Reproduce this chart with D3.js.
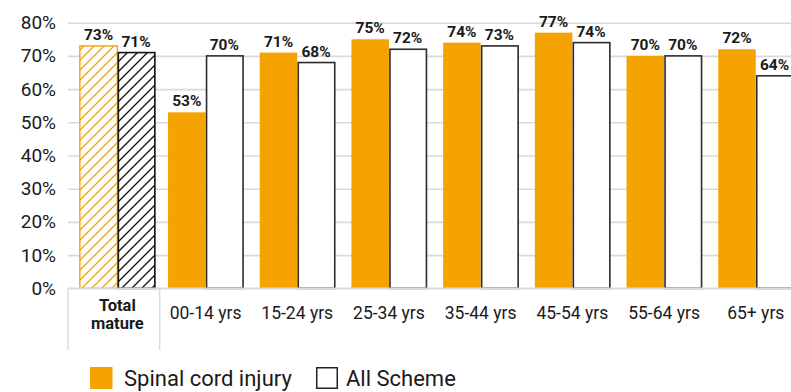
<!DOCTYPE html>
<html>
<head>
<meta charset="utf-8">
<script src="https://cdn.jsdelivr.net/npm/d3@7"></script>
<style>
  html, body { margin: 0; padding: 0; background: #fff; }
  svg { display: block; font-family: Roboto, "Open Sans", sans-serif; }
</style>
</head>
<body>
<svg id="chart" width="791" height="392"></svg>
<script>
// Age groups along the x axis
const categories = ["Total mature", "00-14 yrs", "15-24 yrs", "25-34 yrs", "35-44 yrs", "45-54 yrs", "55-64 yrs", "65+ yrs"];
// Share per age group (percent)
const spinalCord = [73, 53, 71, 75, 74, 77, 70, 72];
const allScheme = [71, 70, 68, 72, 73, 74, 70, 64];
// Y axis ticks (percent)
const yTicks = [0, 10, 20, 30, 40, 50, 60, 70, 80];
const seriesNames = ["Spinal cord injury", "All Scheme"];

const ORANGE = "#f5a300";
const INK = "#1a1a1a";
const GRID = "#d9d9d9";

const svg = d3.select("#chart");
const margin = { left: 68, top: 22.7, bottom: 288.3 };
const step = 91.7;

const x = d3.scaleBand()
  .domain(categories)
  .range([margin.left, margin.left + step * categories.length])
  .paddingInner(0).paddingOuter(0);

const y = d3.scaleLinear().domain([0, 80]).range([margin.bottom, margin.top]);

const barW = 37.5;
// the "Total mature" pair sits a little right of its band centre
const shift = i => (i === 0 ? 3.5 : 0);

// Hatch patterns for the "Total mature" group
const defs = svg.append("defs");
function hatch(id, color) {
  const s = 10;
  const p = defs.append("pattern")
    .attr("id", id)
    .attr("patternUnits", "userSpaceOnUse")
    .attr("width", s).attr("height", s);
  p.append("rect").attr("width", s).attr("height", s).attr("fill", "#fff");
  p.append("path")
    .attr("d", `M-2,2 L2,-2 M0,${s} L${s},0 M${s - 2},${s + 2} L${s + 2},${s - 2}`)
    .attr("stroke", color).attr("stroke-width", 1.3);
}
hatch("hatch-orange", ORANGE);
hatch("hatch-black", "#111");

// Horizontal gridlines and tick labels
const yAxis = d3.axisLeft(y)
  .tickValues(yTicks)
  .tickFormat(d => d + "%")
  .tickSize(-(791 - margin.left))
  .tickPadding(12);

const gy = svg.append("g")
  .attr("transform", `translate(${margin.left},0)`)
  .call(yAxis);
gy.select(".domain").remove();
gy.selectAll(".tick line").attr("stroke", GRID).attr("stroke-width", 1.6);
gy.selectAll(".tick text")
  .attr("fill", INK)
  .attr("font-size", 19)
  .attr("font-family", "Roboto, sans-serif");

// Separators below the baseline around the "Total mature" group
const sepX = [x(categories[0]), x(categories[1])];
svg.append("g").selectAll("line").data(sepX).join("line")
  .attr("x1", d => d).attr("x2", d => d)
  .attr("y1", margin.bottom).attr("y2", 350)
  .attr("stroke", GRID).attr("stroke-width", 1.4);

// Bars
const rows = categories.map((c, i) => ({ cat: c, i, a: spinalCord[i], b: allScheme[i] }));
const groups = svg.append("g").selectAll("g").data(rows).join("g");
const mid = d => x(d.cat) + x.bandwidth() / 2 + shift(d.i);

groups.append("rect")
  .attr("x", d => mid(d) - barW)
  .attr("y", d => y(d.a))
  .attr("width", barW)
  .attr("height", d => y(0) - y(d.a))
  .attr("fill", d => d.i === 0 ? "url(#hatch-orange)" : ORANGE)
  .attr("stroke", d => d.i === 0 ? ORANGE : "none")
  .attr("stroke-width", 1.4);

groups.append("rect")
  .attr("x", d => mid(d) + 1)
  .attr("y", d => y(d.b))
  .attr("width", barW - 1)
  .attr("height", d => y(0) - y(d.b))
  .attr("fill", d => d.i === 0 ? "url(#hatch-black)" : "#fff")
  .attr("stroke", d => d.i === 0 ? "#111" : "#2b2b2b")
  .attr("stroke-width", 1.6);

// Value labels
groups.append("text")
  .attr("x", d => mid(d) - barW / 2)
  .attr("y", d => y(d.a) - 6)
  .attr("text-anchor", "middle")
  .attr("font-weight", 700).attr("font-size", 15.5).attr("fill", INK)
  .text(d => d.a + "%");

groups.append("text")
  .attr("x", d => mid(d) + barW / 2)
  .attr("y", d => y(d.b) - 6)
  .attr("text-anchor", "middle")
  .attr("font-weight", 700).attr("font-size", 15.5).attr("fill", INK)
  .text(d => d.b + "%");

// Baseline
svg.append("line")
  .attr("x1", margin.left).attr("x2", 791)
  .attr("y1", y(0)).attr("y2", y(0))
  .attr("stroke", GRID).attr("stroke-width", 1.6);

// Category labels
const cx = svg.append("g").selectAll("text").data(categories).join("text")
  .attr("x", (d, i) => x(d) + x.bandwidth() / 2 + shift(i))
  .attr("y", 319)
  .attr("text-anchor", "middle")
  .attr("fill", INK)
  .attr("font-size", 17.5);
cx.filter((d, i) => i > 0).text(d => d);
cx.filter((d, i) => i === 0)
  .attr("font-weight", 700).attr("font-size", 16.5)
  .each(function (d) {
    const words = d.split(" ");
    d3.select(this).selectAll("tspan").data(words).join("tspan")
      .attr("x", x(d) + x.bandwidth() / 2 + shift(0))
      .attr("dy", (w, j) => j === 0 ? -8 : 18)
      .text(w => w);
  });

// Legend
const legend = svg.append("g");
const legendItems = [
  { name: seriesNames[0], x: 90, fill: ORANGE, stroke: "none" },
  { name: seriesNames[1], x: 316, fill: "#fff", stroke: "#222" }
];
legend.selectAll("rect").data(legendItems).join("rect")
  .attr("x", d => d.x + (d.stroke === "none" ? 0 : 0.75))
  .attr("y", d => 367 + (d.stroke === "none" ? 0 : 0.75))
  .attr("width", d => d.stroke === "none" ? 22.5 : 20.5)
  .attr("height", d => d.stroke === "none" ? 22 : 20.5)
  .attr("fill", d => d.fill)
  .attr("stroke", d => d.stroke)
  .attr("stroke-width", 1.5);
legend.selectAll("text").data(legendItems).join("text")
  .attr("x", d => d.x + (d.stroke === "none" ? 34 : 30))
  .attr("y", 386)
  .attr("fill", INK)
  .attr("font-size", 22)
  .text(d => d.name);
</script>
</body>
</html>
